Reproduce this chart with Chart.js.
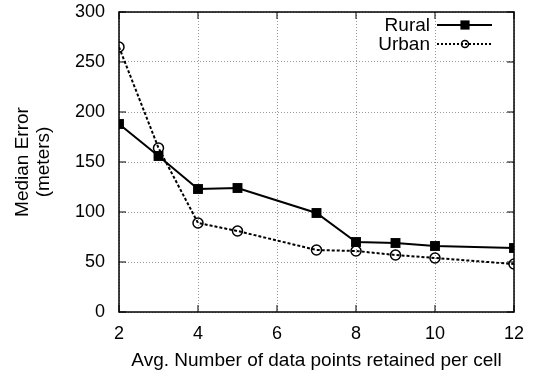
<!DOCTYPE html>
<html>
<head>
<meta charset="utf-8">
<script src="https://cdn.jsdelivr.net/npm/chart.js@4/dist/chart.umd.min.js"></script>
<style>
  html, body { margin: 0; padding: 0; background: #fff; }
  #wrap { width: 541px; height: 374px; }
</style>
</head>
<body>
<div id="wrap"><canvas id="chart" width="541" height="374"></canvas></div>
<script>
// values
let xs = [2, 3, 4, 5, 7, 8, 9, 10, 12];
let rural = [188, 156, 123, 124, 99, 70, 69, 66, 64];
let urban = [265, 164, 89, 81, 62, 61, 57, 54, 48];
let x_ticks = [2, 4, 6, 8, 10, 12];
let y_ticks = [0, 50, 100, 150, 200, 250, 300];

const FONT = "'Liberation Sans', Arial, sans-serif";

function toPoints(vals) {
    return vals.map((v, i) => ({ x: xs[i], y: v }));
}

// frame round the plot with small inward ticks, like gnuplot
const framePlugin = {
    id: 'frame',
    afterDraw(chart) {
        const { ctx, chartArea: a, scales } = chart;
        ctx.save();
        ctx.strokeStyle = '#000';
        ctx.lineWidth = 1.5;
        ctx.strokeRect(a.left, a.top, a.right - a.left, a.bottom - a.top);
        ctx.lineWidth = 1;
        const len = 7;
        ctx.beginPath();
        x_ticks.forEach(t => {
            const px = scales.x.getPixelForValue(t);
            ctx.moveTo(px, a.bottom); ctx.lineTo(px, a.bottom - len);
            ctx.moveTo(px, a.top); ctx.lineTo(px, a.top + len);
        });
        y_ticks.forEach(t => {
            const py = scales.y.getPixelForValue(t);
            ctx.moveTo(a.left, py); ctx.lineTo(a.left + len, py);
            ctx.moveTo(a.right, py); ctx.lineTo(a.right - len, py);
        });
        ctx.stroke();
        ctx.restore();
    }
};

// legend: text right-aligned, then line sample with its marker
const legendPlugin = {
    id: 'gnuLegend',
    afterDraw(chart) {
        const { ctx, chartArea: a } = chart;
        ctx.save();
        ctx.font = '19px ' + FONT;
        ctx.textAlign = 'right';
        ctx.textBaseline = 'middle';
        chart.data.datasets.forEach((ds, i) => {
            const y = a.top + 13 + i * 19;
            const x1 = a.right - 77, x2 = a.right - 22;
            ctx.fillStyle = '#000';
            ctx.fillText(ds.label, x1 - 7, y + 1);
            ctx.strokeStyle = ds.borderColor;
            ctx.lineWidth = ds.borderWidth;
            ctx.setLineDash(i == 1 ? [2, 2] : []);
            ctx.beginPath();
            ctx.moveTo(x1, y); ctx.lineTo(x2, y);
            ctx.stroke();
            ctx.setLineDash([]);
            ctx.lineWidth = 1.5;
            ctx.fillStyle = ds.pointBackgroundColor;
            ctx.strokeStyle = '#000';
            Chart.helpers.drawPoint(ctx, {
                pointStyle: ds.pointStyle,
                radius: i == 0 ? 6.5 : 3.5,
                borderWidth: i == 0 ? 0 : 1.5
            }, x1 + 28, y);
        });
        ctx.restore();
    }
};

const ctx = document.getElementById('chart').getContext('2d');
const myChart = new Chart(ctx, {
    type: 'line',
    data: {
        datasets: [
            {
                label: 'Rural',
                data: toPoints(rural),
                borderColor: '#000',
                borderWidth: 2,
                pointStyle: 'rect',
                pointRadius: 7,
                pointBackgroundColor: '#000',
                pointBorderColor: '#000',
                pointBorderWidth: 0,
                tension: 0
            },
            {
                label: 'Urban',
                data: toPoints(urban),
                borderColor: '#000',
                borderWidth: 2,
                borderDash: [3, 2],
                pointStyle: 'circle',
                pointRadius: 5,
                pointBackgroundColor: 'rgba(0,0,0,0)',
                pointBorderColor: '#000',
                pointBorderWidth: 1.5,
                tension: 0
            }
        ]
    },
    options: {
        responsive: false,
        animation: false,
        layout: { padding: { top: 12, right: 27, left: 0, bottom: 0 } },
        plugins: {
            legend: { display: false },
            tooltip: { enabled: false }
        },
        scales: {
            x: {
                type: 'linear',
                min: 2,
                max: 12,
                afterBuildTicks: s => { s.ticks = x_ticks.map(v => ({ value: v })); },
                afterFit: s => { s.height = 62; s.paddingLeft = 0; s.paddingRight = 0; },
                ticks: { color: '#000', font: { family: FONT, size: 18 }, padding: 11, maxRotation: 0 },
                grid: { color: '#999', lineWidth: 1, drawTicks: false },
                border: { display: false, dash: [1, 2] },
                title: {
                    display: true,
                    text: 'Avg. Number of data points retained per cell',
                    color: '#000',
                    font: { family: FONT, size: 19 },
                    padding: { top: 0, bottom: 2 }
                }
            },
            y: {
                min: 0,
                max: 300,
                afterBuildTicks: s => { s.ticks = y_ticks.map(v => ({ value: v })); },
                afterFit: s => { s.width = 119; s.paddingTop = 0; s.paddingBottom = 0; },
                ticks: { color: '#000', font: { family: FONT, size: 18 }, padding: 14 },
                grid: { color: '#999', lineWidth: 1, drawTicks: false },
                border: { display: false, dash: [1, 2] },
                title: {
                    display: true,
                    text: ['Median Error', '(meters)'],
                    color: '#000',
                    font: { family: FONT, size: 19, lineHeight: 1.08 },
                    padding: { top: 13, bottom: 0 }
                }
            }
        }
    },
    plugins: [framePlugin, legendPlugin]
});
</script>
</body>
</html>
